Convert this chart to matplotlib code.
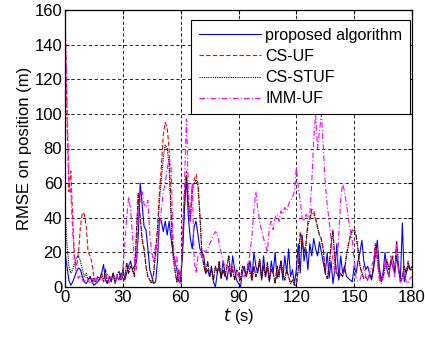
import matplotlib
matplotlib.use("Agg")
import matplotlib.pyplot as plt
import numpy as np

t = np.arange(0, 181)

proposed = [
    20, 12, 4, 1, 3, 6, 9, 11, 10, 6, 3, 2, 4, 6, 3, 1, 2, 3, 5, 8,
    13, 4, 2, 6, 3, 8, 2, 6, 4, 8, 5, 4, 8, 12, 15, 10, 12, 14, 30, 60,
    48, 35, 33, 22, 10, 6, 2, 3, 15, 40, 38, 32, 38, 30, 38, 28, 20, 15, 10, 3,
    3, 20, 45, 64, 40, 28, 22, 35, 38, 30, 22, 20, 18, 8, 10, 6, 12, 3, 0, 8,
    12, 5, 15, 8, 4, 12, 6, 18, 10, 4, 2, 0, 8, 12, 6, 10, 15, 5, 20, 12,
    8, 15, 4, 18, 6, 12, 3, 15, 8, 20, 5, 10, 14, 4, 18, 8, 22, 6, 10, 2,
    10, 25, 8, 30, 15, 22, 10, 25, 18, 28, 22, 18, 26, 20, 14, 8, 20, 5, 15, 2,
    10, 25, 4, 18, 8, 12, 6, 5, 4, 3, 12, 8, 15, 20, 27, 15, 10, 12, 8, 4,
    10, 18, 27, 12, 4, 8, 20, 10, 6, 15, 12, 8, 18, 10, 5, 37, 3, 8, 12, 10, 10,
]

cs_uf = [
    160, 100, 55, 67, 40, 15, 12, 20, 35, 43, 42, 35, 20, 18, 14, 5, 3, 6, 4, 8,
    3, 10, 2, 6, 4, 8, 3, 7, 9, 4, 10, 5, 14, 8, 12, 10, 6, 30, 55, 40,
    28, 22, 12, 6, 4, 2, 8, 20, 35, 55, 70, 88, 95, 92, 80, 45, 20, 10, 3, 10,
    3, 25, 55, 67, 50, 40, 58, 62, 65, 60, 42, 20, 12, 8, 15, 6, 10, 4, 12, 8,
    15, 5, 10, 6, 12, 18, 6, 10, 4, 10, 8, 4, 12, 10, 6, 14, 8, 4, 12, 6,
    10, 16, 5, 12, 6, 14, 4, 10, 8, 2, 12, 6, 15, 8, 4, 10, 6, 2, 4, 1,
    1, 10, 32, 28, 20, 25, 38, 40, 45, 44, 40, 35, 30, 28, 22, 8, 5, 12, 25, 33,
    15, 8, 5, 8, 6, 10, 18, 25, 30, 33, 34, 30, 22, 12, 8, 5, 6, 4, 7, 5,
    12, 25, 18, 8, 3, 5, 12, 16, 10, 14, 18, 8, 27, 12, 3, 6, 12, 8, 15, 10, 12,
]

cs_stuf = [
    45, 25, 12, 8, 10, 14, 17, 18, 15, 10, 6, 8, 4, 6, 3, 5, 3, 6, 4, 8,
    3, 10, 2, 6, 4, 8, 3, 7, 9, 4, 10, 5, 14, 8, 12, 10, 6, 28, 53, 40,
    27, 22, 12, 6, 4, 2, 8, 20, 32, 50, 62, 75, 82, 80, 70, 40, 18, 10, 3, 10,
    3, 24, 52, 63, 48, 38, 55, 60, 62, 58, 40, 20, 12, 8, 15, 6, 10, 4, 12, 8,
    15, 5, 10, 6, 12, 18, 6, 10, 4, 10, 8, 4, 12, 10, 6, 14, 8, 4, 12, 6,
    10, 16, 5, 12, 6, 14, 4, 10, 8, 2, 12, 6, 15, 8, 4, 10, 6, 2, 4, 1,
    1, 10, 30, 27, 20, 24, 36, 39, 43, 42, 39, 34, 30, 27, 21, 8, 5, 12, 24, 32,
    15, 8, 5, 8, 6, 10, 18, 24, 29, 32, 33, 29, 21, 12, 8, 5, 6, 4, 7, 5,
    12, 24, 18, 8, 3, 5, 12, 15, 10, 14, 17, 8, 26, 12, 3, 6, 12, 8, 14, 10, 12,
]

imm_uf = [
    160, 110, 60, 55, 32, 14, 8, 5, 7, 4, 3, 6, 4, 2, 5, 3, 6, 2, 4, 6,
    3, 5, 8, 2, 6, 4, 3, 7, 4, 5, 10, 25, 40, 52, 45, 30, 15, 10, 45, 50,
    55, 48, 46, 50, 30, 20, 14, 25, 20, 35, 45, 55, 60, 68, 75, 70, 30, 12, 18, 5,
    2, 30, 60, 97, 55, 38, 60, 15, 8, 18, 20, 17, 21, 20, 22, 25, 27, 30, 32, 31,
    25, 20, 15, 12, 13, 10, 8, 12, 9, 8, 6, 5, 7, 6, 9, 12, 20, 30, 45, 55,
    45, 38, 32, 28, 24, 20, 35, 38, 33, 40, 42, 38, 44, 42, 46, 44, 48, 50, 52, 55,
    69, 58, 50, 40, 38, 42, 40, 42, 60, 85, 100, 80, 90, 100, 80, 60, 48, 38, 28, 15,
    8, 10, 30, 50, 60, 55, 48, 40, 32, 27, 15, 5, 3, 4, 8, 12, 6, 4, 8, 12,
    15, 22, 15, 4, 2, 8, 15, 12, 6, 18, 12, 6, 25, 10, 2, 4, 8, 3, 2, 5, 6,
]

labels = ["proposed algorithm", "CS-UF", "CS-STUF", "IMM-UF"]
xticks = [0, 30, 60, 90, 120, 150, 180]
yticks = [0, 20, 40, 60, 80, 100, 120, 140, 160]

plt.rcParams['font.family'] = ['Liberation Sans', 'DejaVu Sans']
fig = plt.figure(figsize=(4.25, 3.37), dpi=100)
ax = fig.add_axes([65 / 425, 50 / 337, 347 / 425, 277 / 337])

lw = 0.8
ax.plot(t, proposed, color=(0, 0, 1), lw=lw, ls='-', label=labels[0])
ax.plot(t, cs_uf, color=(1, 0, 0), lw=lw, ls=(0, (4, 2)), label=labels[1])
ax.plot(t, cs_stuf, color='k', lw=lw, ls=(0, (1, 1)), label=labels[2])
ax.plot(t, imm_uf, color=(1, 0, 1), lw=lw, ls=(0, (5, 2, 1, 2)), label=labels[3])

ax.set_xlim(0, 180)
ax.set_ylim(0, 160)
ax.set_xticks(xticks)
ax.set_yticks(yticks)
ax.grid(True, color='k', ls=(0, (4, 3)), lw=0.6)
ax.set_axisbelow(True)
ax.tick_params(direction='in', top=True, right=True, labelsize=12, length=3, pad=2)
for s in ax.spines.values():
    s.set_linewidth(0.9)

ax.set_xlabel("$t$ (s)", fontsize=12, labelpad=1)
ax.set_ylabel("RMSE on position (m)", fontsize=12, labelpad=2)

leg = ax.legend(loc='upper right', fontsize=11.5, frameon=True, fancybox=False,
                edgecolor='k', framealpha=1, borderpad=0.5, labelspacing=0.38,
                handlelength=3.9, handletextpad=0.25, borderaxespad=0,
                bbox_to_anchor=(410 / 425, 1 - 20 / 337), bbox_transform=fig.transFigure)
leg.get_frame().set_linewidth(0.8)

fig.savefig("out.png", dpi=100)
